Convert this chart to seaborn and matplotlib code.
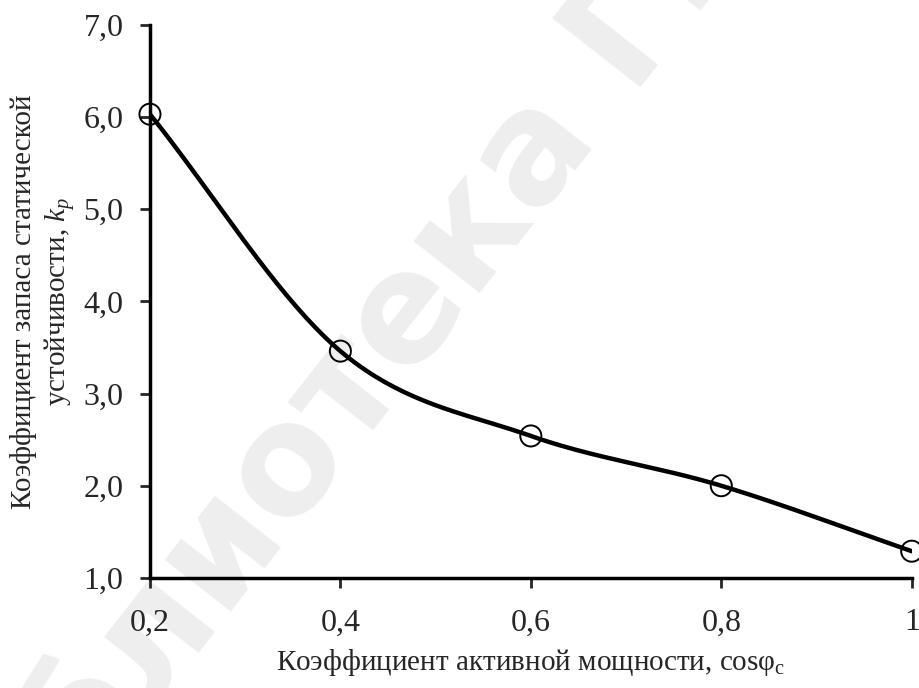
import numpy as np
import pandas as pd
import matplotlib
matplotlib.use("Agg")
import matplotlib.pyplot as plt
import seaborn as sns

cos_phi = [0.2, 0.4, 0.6, 0.8, 1.0]
k_p = [6.03, 3.46, 2.54, 2.00, 1.29]
x_ticks = [0.2, 0.4, 0.6, 0.8, 1.0]
x_tick_labels = ["0,2", "0,4", "0,6", "0,8", "1"]
y_ticks = [1, 2, 3, 4, 5, 6, 7]
y_tick_labels = ["1,0", "2,0", "3,0", "4,0", "5,0", "6,0", "7,0"]

sns.set_theme(style="white")
plt.rcParams["font.family"] = ["Liberation Serif", "DejaVu Serif"]
plt.rcParams["mathtext.fontset"] = "custom"
plt.rcParams["mathtext.rm"] = "Liberation Serif"
plt.rcParams["mathtext.it"] = "Liberation Serif:italic"

def smooth(xs, ys, n=40):
    # Catmull-Rom style smoothing (like spreadsheet smoothed lines)
    xs = np.asarray(xs, float); ys = np.asarray(ys, float)
    P = np.column_stack([xs, ys])
    P = np.vstack([P[0] - (P[1] - P[0]), P, P[-1] + (P[-1] - P[-2])])
    out = []
    for i in range(1, len(P) - 2):
        p0, p1, p2, p3 = P[i - 1], P[i], P[i + 1], P[i + 2]
        b1 = p1 + (p2 - p0) / 6
        b2 = p2 - (p3 - p1) / 6
        t = np.linspace(0, 1, n)[:, None]
        seg = ((1 - t) ** 3) * p1 + 3 * ((1 - t) ** 2) * t * b1 + 3 * (1 - t) * t ** 2 * b2 + t ** 3 * p2
        out.append(seg if i == 1 else seg[1:])
    S = np.vstack(out)
    return S[:, 0], S[:, 1]

sx, sy = smooth(cos_phi, k_p)
curve = pd.DataFrame({"x": sx, "y": sy})
pts = pd.DataFrame({"x": cos_phi, "y": k_p})

fig = plt.figure(figsize=(9.2, 6.88), dpi=100)
ax = fig.add_axes([0.163, 0.160, 0.828, 0.804])
ax.set_zorder(1)
ax.set_facecolor("none")

# watermark
fig.text(0.42, 0.50, "Библиотека ГГТУ", fontsize=110, fontweight="bold",
         color="#eeeeee", rotation=52, ha="center", va="center", zorder=-5,
         family=["DejaVu Sans"])

sns.lineplot(data=curve, x="x", y="y", ax=ax, color="black", linewidth=3.2,
             sort=False, estimator=None)
sns.scatterplot(data=pts, x="x", y="y", ax=ax, s=230, marker="o",
                facecolor="none", edgecolor="black", linewidth=1.4, zorder=5,
                clip_on=False)

ax.set_xlim(0.2, 1.0)
ax.set_ylim(1, 7)
ax.set_xticks(x_ticks)
ax.set_xticklabels(x_tick_labels, fontsize=23)
ax.set_yticks(y_ticks)
ax.set_yticklabels(y_tick_labels, fontsize=23)
for s in ["top", "right"]:
    ax.spines[s].set_visible(False)
for s in ["left", "bottom"]:
    ax.spines[s].set_linewidth(2.5)
    ax.spines[s].set_color("black")
ax.tick_params(axis="y", direction="out", length=7, width=2, pad=12, left=True)
ax.tick_params(axis="x", direction="out", length=7, width=2, pad=15, bottom=True)

ax.set_xlabel("Коэффициент активной мощности, cosφ$_{\\mathrm{c}}$", fontsize=21, labelpad=7)
ax.set_ylabel("Коэффициент запаса статической\nустойчивости, $k_p$", fontsize=21,
              labelpad=4, linespacing=1.25)

fig.savefig("out.png", dpi=100)
